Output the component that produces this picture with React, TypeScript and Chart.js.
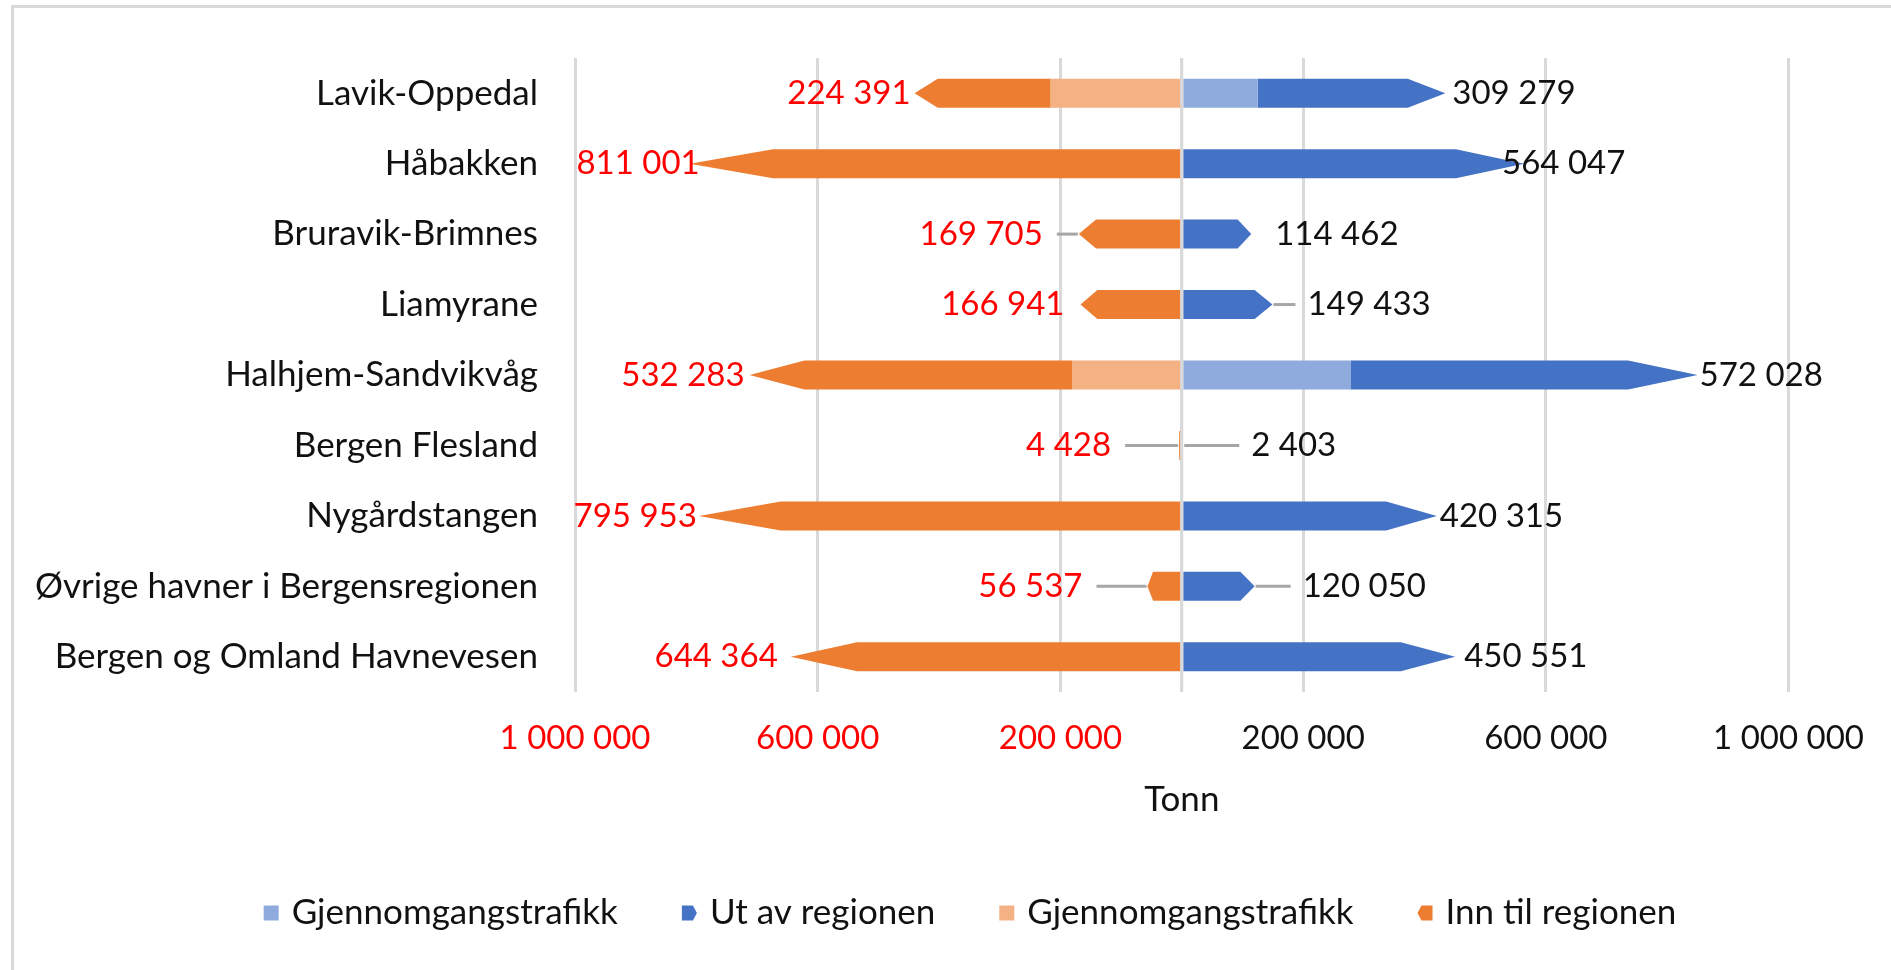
import React, { useEffect, useRef } from 'react';
import { Chart, registerables } from 'chart.js';

Chart.register(...registerables);

// ---------- data ----------
const CATEGORIES = [
  'Lavik-Oppedal',
  'Håbakken',
  'Bruravik-Brimnes',
  'Liamyrane',
  'Halhjem-Sandvikvåg',
  'Bergen Flesland',
  'Nygårdstangen',
  'Øvrige havner i Bergensregionen',
  'Bergen og Omland Havnevesen',
];
const GJENNOM_UT = [125000, 0, 0, 0, 278000, 0, 0, 0, 0];
const UT_AV_REGIONEN = [309279, 564047, 114462, 149433, 572028, 2403, 420315, 120050, 450551];
const GJENNOM_INN = [216000, 0, 0, 0, 180000, 0, 0, 0, 0];
const INN_TIL_REGIONEN = [224391, 811001, 169705, 166941, 532283, 4428, 795953, 56537, 644364];
const X_TICKS = [-1000000, -600000, -200000, 0, 200000, 600000, 1000000];
const SERIES_NAMES = ['Gjennomgangstrafikk', 'Ut av regionen', 'Gjennomgangstrafikk', 'Inn til regionen'];
const AXIS_TITLE = 'Tonn';

// ---------- style ----------
const FONT_FAMILY = 'Lato, "Open Sans", sans-serif';
const NUM_SIZE = 33;
const TEXT_SIZE = 35;
const NUM_FONT_CSS = `${NUM_SIZE}px ${FONT_FAMILY}`;
const TEXT_FONT_CSS = `${TEXT_SIZE}px ${FONT_FAMILY}`;
const TEXT_COLOR = '#111111';
const NEG_COLOR = '#FF0000';
const GRID_COLOR = '#D9D9D9';
const LEADER_COLOR = '#A6A6A6';
const COLORS = ['#8FAADC', '#4472C4', '#F4B183', '#ED7D31'];
const ARROW_SHAPE: Record<number, { dir: number; frac: number }> = {
  1: { dir: 1, frac: 0.2 },
  3: { dir: -1, frac: 0.17 },
};
// manual label placement (px away from bar tip), like hand-moved Excel labels
const LEFT_LABEL_OFFSET = [4, -10, 36, 16, 5, 68, 2, 65, 13];
const RIGHT_LABEL_OFFSET = [7, -22, 24, 35, 2, 68, 3, 48, 9];
const LEADER_MIN = 30;

const fmt = (n: number) =>
  Math.round(Math.abs(n)).toString().replace(/\B(?=(\d{3})+(?!\d))/g, '\u00A0');

const arrowPlugin = {
  id: 'arrowBars',
  beforeDatasetDraw(chart: any, args: any) {
    const shape = ARROW_SHAPE[args.index];
    if (!shape) return;
    const ctx = chart.ctx;
    ctx.save();
    ctx.fillStyle = COLORS[args.index];
    args.meta.data.forEach((el: any) => {
      const { x, y, base, height } = el.getProps(['x', 'y', 'base', 'height'], true);
      const len = Math.abs(x - base);
      if (!isFinite(len) || len < 0.5) return;
      const dir = x > base ? 1 : -1;
      const tip = len * shape.frac;
      const h = height / 2;
      ctx.beginPath();
      ctx.moveTo(base, y - h);
      ctx.lineTo(x - dir * tip, y - h);
      ctx.lineTo(x, y);
      ctx.lineTo(x - dir * tip, y + h);
      ctx.lineTo(base, y + h);
      ctx.closePath();
      ctx.fill();
    });
    ctx.restore();
    return false;
  },
};

const labelPlugin = {
  id: 'valueLabels',
  afterDatasetsDraw(chart: any) {
    const ctx = chart.ctx;
    const xs = chart.scales.x;
    const area = chart.chartArea;
    const x0 = xs.getPixelForValue(0);
    ctx.save();
    // vertical axis line on top of the bars
    ctx.strokeStyle = GRID_COLOR;
    ctx.lineWidth = 3;
    ctx.beginPath();
    ctx.moveTo(x0, area.top);
    ctx.lineTo(x0, area.bottom);
    ctx.stroke();

    ctx.font = NUM_FONT_CSS;
    ctx.textBaseline = 'middle';
    const utMeta = chart.getDatasetMeta(1);
    const innMeta = chart.getDatasetMeta(3);
    CATEGORIES.forEach((_, i) => {
      const r = utMeta.data[i];
      const l = innMeta.data[i];
      const y = r.y;
      // right label
      const rOff = RIGHT_LABEL_OFFSET[i];
      const rx = r.x + rOff;
      if (rOff > LEADER_MIN) {
        ctx.strokeStyle = LEADER_COLOR;
        ctx.lineWidth = 3;
        ctx.beginPath();
        ctx.moveTo(r.x + 1, y);
        ctx.lineTo(rx - 12, y);
        ctx.stroke();
      }
      ctx.fillStyle = TEXT_COLOR;
      ctx.textAlign = 'left';
      ctx.fillText(fmt(UT_AV_REGIONEN[i]), rx, y);
      // left label
      const lOff = LEFT_LABEL_OFFSET[i];
      const lx = l.x - lOff;
      if (lOff > LEADER_MIN) {
        ctx.strokeStyle = LEADER_COLOR;
        ctx.lineWidth = 3;
        ctx.beginPath();
        ctx.moveTo(l.x - 1, y);
        ctx.lineTo(lx + 14, y);
        ctx.stroke();
      }
      ctx.fillStyle = NEG_COLOR;
      ctx.textAlign = 'right';
      ctx.fillText(fmt(INN_TIL_REGIONEN[i]), lx, y);
    });
    ctx.restore();
  },
};

const LEGEND_CENTER_X = 970;
const LEGEND_Y = 913;
const LEGEND_MARK = 15;
const LEGEND_MARK_GAP = 13;
const LEGEND_ITEM_GAP = 64;

const legendPlugin = {
  id: 'customLegend',
  afterDraw(chart: any) {
    const ctx = chart.ctx;
    ctx.save();
    ctx.font = TEXT_FONT_CSS;
    ctx.textBaseline = 'middle';
    ctx.textAlign = 'left';
    const names = chart.data.datasets.map((d: any) => d.label);
    const widths = names.map((n: string) => ctx.measureText(n).width);
    const total =
      widths.reduce((a: number, w: number) => a + w + LEGEND_MARK + LEGEND_MARK_GAP, 0) +
      LEGEND_ITEM_GAP * (names.length - 1);
    let x = LEGEND_CENTER_X - total / 2;
    const y = LEGEND_Y;
    const h = LEGEND_MARK / 2;
    names.forEach((n: string, i: number) => {
      ctx.fillStyle = COLORS[i];
      const shape = ARROW_SHAPE[i];
      ctx.beginPath();
      if (!shape) {
        ctx.rect(x, y - h, LEGEND_MARK, LEGEND_MARK);
      } else if (shape.dir > 0) {
        ctx.moveTo(x, y - h);
        ctx.lineTo(x + LEGEND_MARK - 4, y - h);
        ctx.lineTo(x + LEGEND_MARK, y);
        ctx.lineTo(x + LEGEND_MARK - 4, y + h);
        ctx.lineTo(x, y + h);
      } else {
        ctx.moveTo(x + LEGEND_MARK, y - h);
        ctx.lineTo(x + 4, y - h);
        ctx.lineTo(x, y);
        ctx.lineTo(x + 4, y + h);
        ctx.lineTo(x + LEGEND_MARK, y + h);
      }
      ctx.closePath();
      ctx.fill();
      ctx.fillStyle = TEXT_COLOR;
      ctx.fillText(n, x + LEGEND_MARK + LEGEND_MARK_GAP, y);
      x += LEGEND_MARK + LEGEND_MARK_GAP + widths[i] + LEGEND_ITEM_GAP;
    });
    ctx.restore();
  },
};

const orNull = (v: number, sign: number) => (v ? sign * v : null);

export default function App() {
  const ref = useRef<HTMLCanvasElement>(null);

  useEffect(() => {
    const canvas = ref.current!;
    const numFont = { family: FONT_FAMILY, size: NUM_SIZE };
    const textFont = { family: FONT_FAMILY, size: TEXT_SIZE };
    const chart = new Chart(canvas, {
      type: 'bar',
      data: {
        labels: CATEGORIES,
        datasets: [
          { label: SERIES_NAMES[0], data: GJENNOM_UT.map((v) => orNull(v, 1)), backgroundColor: COLORS[0] },
          { label: SERIES_NAMES[1], data: UT_AV_REGIONEN, backgroundColor: COLORS[1] },
          { label: SERIES_NAMES[2], data: GJENNOM_INN.map((v) => orNull(v, -1)), backgroundColor: COLORS[2] },
          { label: SERIES_NAMES[3], data: INN_TIL_REGIONEN.map((v) => -v), backgroundColor: COLORS[3] },
        ],
      },
      options: {
        indexAxis: 'y',
        responsive: false,
        animation: false,
        devicePixelRatio: 1,
        layout: { padding: { left: 0, right: 101, top: 51, bottom: 149 } },
        datasets: { bar: { barThickness: 29, borderWidth: 0, inflateAmount: 0 } },
        plugins: { legend: { display: false }, tooltip: { enabled: false } },
        scales: {
          x: {
            stacked: true,
            min: -1000000,
            max: 1000000,
            afterBuildTicks: (s: any) => {
              s.ticks = X_TICKS.map((v) => ({ value: v }));
            },
            afterFit: (s: any) => {
              s.height = 129;
            },
            grid: { color: GRID_COLOR, lineWidth: 3, drawTicks: false },
            border: { display: false },
            ticks: {
              font: numFont,
              padding: 27,
              maxRotation: 0,
              autoSkip: false,
              color: (c: any) => (c.tick && c.tick.value < 0 ? NEG_COLOR : TEXT_COLOR),
              callback: (v: any) => (Number(v) === 0 ? '' : fmt(Number(v))),
            },
            title: { display: true, text: AXIS_TITLE, font: textFont, color: TEXT_COLOR, padding: 0 },
          },
          y: {
            stacked: true,
            afterFit: (s: any) => {
              s.width = 575;
            },
            grid: { display: false, drawTicks: false },
            border: { display: false },
            ticks: { font: textFont, color: TEXT_COLOR, padding: 37, autoSkip: false },
          },
        },
      },
      plugins: [arrowPlugin, labelPlugin, legendPlugin],
    } as any);
    return () => chart.destroy();
  }, []);

  return (
    <div
      style={{
        position: 'fixed',
        left: 0,
        top: 0,
        width: 1891,
        height: 970,
        background: '#ffffff',
        overflow: 'hidden',
      }}
    >
      <div
        style={{
          position: 'absolute',
          left: 11,
          top: 5,
          width: 2000,
          height: 1000,
          borderTop: `3px solid ${GRID_COLOR}`,
          borderLeft: `3px solid ${GRID_COLOR}`,
        }}
      />
      <canvas ref={ref} width={1891} height={970} style={{ position: 'absolute', left: 0, top: 0 }} />
    </div>
  );
}
